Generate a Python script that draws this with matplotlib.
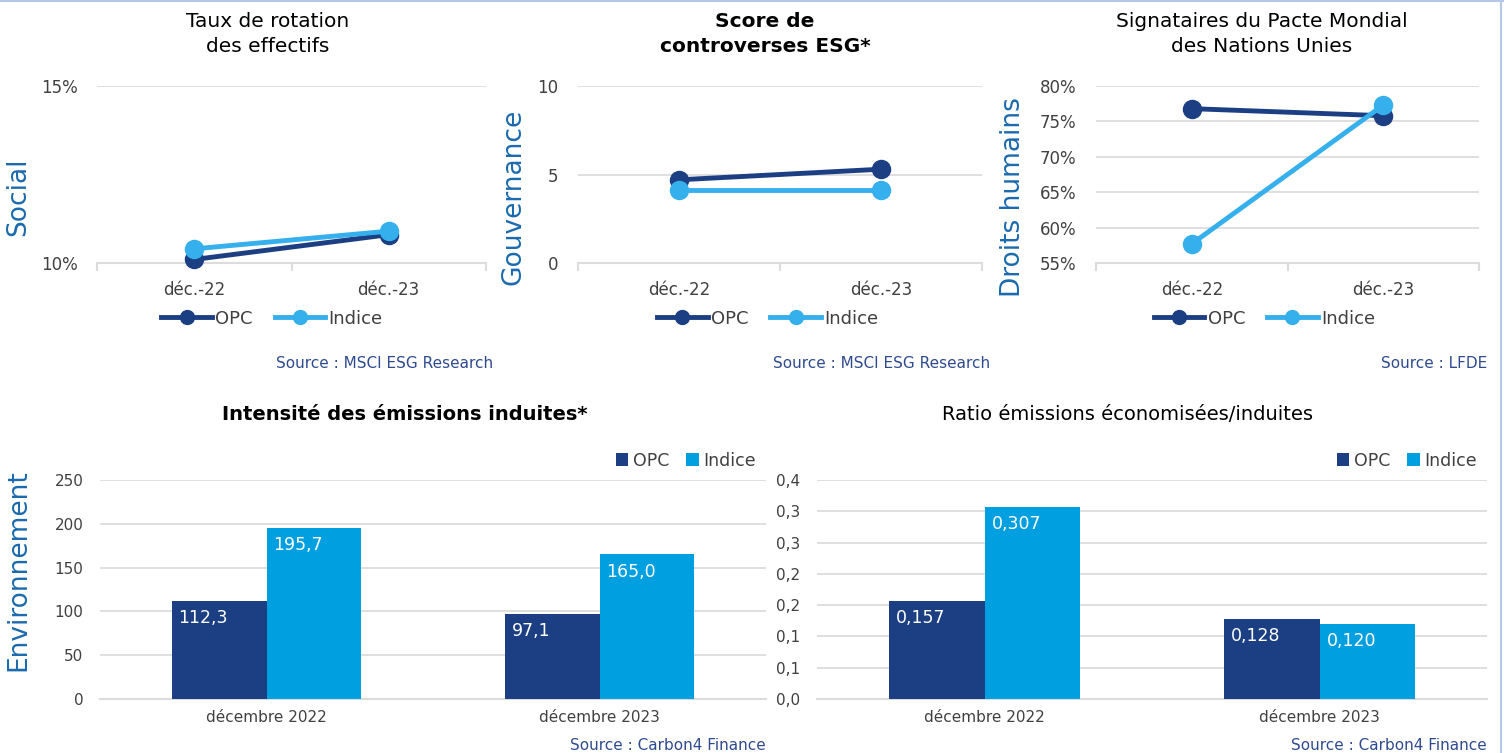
import numpy as np
import matplotlib
matplotlib.use("Agg")
import matplotlib.pyplot as plt
from matplotlib.lines import Line2D

plt.rcParams['font.family'] = ['DejaVu Sans']

W, H = 1504, 753

# données
dates = ["déc.-22", "déc.-23"]
rotation_opc = [10.1, 10.8]
rotation_indice = [10.4, 10.9]
controverses_opc = [4.7, 5.3]
controverses_indice = [4.1, 4.1]
pacte_opc = [76.8, 75.8]
pacte_indice = [57.7, 77.3]

periodes = ["décembre 2022", "décembre 2023"]
intensite_opc = [112.3, 97.1]
intensite_indice = [195.7, 165.0]
ratio_opc = [0.157, 0.128]
ratio_indice = [0.307, 0.120]
ratio_ticks = [0, 0.05, 0.10, 0.15, 0.20, 0.25, 0.30, 0.35]
ratio_ticklabels = ["0,0", "0,1", "0,1", "0,2", "0,2", "0,3", "0,3", "0,4"]

C_OPC = '#1B3F82'
C_IND_LINE = '#35B0EC'
C_IND_BAR = '#009FE0'
C_GRID = '#DCDCDC'
C_TICK = '#404040'
C_YLAB = '#1A6AAE'
C_SRC = '#2F4B8F'


def px(x0, y0, x1, y1):
    return [x0 / W, 1 - y1 / H, (x1 - x0) / W, (y1 - y0) / H]


fig = plt.figure(figsize=(W / 100, H / 100), dpi=100)


def line_panel(rect, opc, ind, ylim, yticks, fmt, title, bold, title_x, ylabel, ylab_x,
               leg_x, src, src_x):
    ax = fig.add_axes(px(*rect))
    x = np.arange(len(dates))
    ax.plot(x, opc, color=C_OPC, lw=3.5, marker='o', ms=13, zorder=3, clip_on=False)
    ax.plot(x, ind, color=C_IND_LINE, lw=3.5, marker='o', ms=13, zorder=4, clip_on=False)
    ax.set_xlim(-0.5, 1.5)
    ax.set_ylim(*ylim)
    ax.set_yticks(yticks)
    ax.set_yticklabels([fmt(v) for v in yticks])
    ax.set_xticks(x)
    ax.set_xticklabels(dates)
    ax.set_xticks([-0.5, 0.5, 1.5], minor=True)
    ax.tick_params(axis='x', which='major', length=0, pad=13, labelsize=12, labelcolor=C_TICK)
    ax.tick_params(axis='x', which='minor', length=6, color=C_GRID, width=1.5)
    ax.tick_params(axis='y', length=0, pad=14, labelsize=12, labelcolor=C_TICK)
    ax.grid(axis='y', color=C_GRID, lw=1.3)
    ax.set_axisbelow(True)
    for s in ['top', 'right', 'left']:
        ax.spines[s].set_visible(False)
    ax.spines['bottom'].set_color(C_GRID)
    ax.spines['bottom'].set_linewidth(1.5)
    fig.text(title_x / W, 1 - 34 / H, title, ha='center', va='center', fontsize=14.5,
             fontweight='bold' if bold else 'normal', linespacing=1.45)
    fig.text(ylab_x / W, 1 - (rect[1] + rect[3]) / 2 / H - 0.03, ylabel, rotation=90,
             ha='center', va='center', fontsize=19, color=C_YLAB)
    handles = [Line2D([], [], color=C_OPC, lw=3.5, marker='o', ms=10),
               Line2D([], [], color=C_IND_LINE, lw=3.5, marker='o', ms=10)]
    ax.legend(handles, ['OPC', 'Indice'], loc='center', bbox_to_anchor=(leg_x, -0.315),
              ncol=2, frameon=False, fontsize=13, handlelength=2.8, handletextpad=0.2,
              columnspacing=1.2, labelcolor=C_TICK)
    fig.text(src_x / W, 1 - 364 / H, src, ha='right', va='center', fontsize=11, color=C_SRC)
    return ax


line_panel((97, 86, 486, 263), rotation_opc, rotation_indice, (10, 15), [10, 15],
           lambda v: f"{v:.0f}%", "Taux de rotation\ndes effectifs", False, 268,
           "Social", 18, 0.45, "Source : MSCI ESG Research", 493)
line_panel((578, 86, 982, 263), controverses_opc, controverses_indice, (0, 10), [0, 5, 10],
           lambda v: f"{v:.0f}", "Score de\ncontroverses ESG*", True, 765,
           "Gouvernance", 513, 0.47, "Source : MSCI ESG Research", 990)
line_panel((1096, 86, 1479, 263), pacte_opc, pacte_indice, (55, 80), [55, 60, 65, 70, 75, 80],
           lambda v: f"{v:.0f}%", "Signataires du Pacte Mondial\ndes Nations Unies", False, 1262,
           "Droits humains", 1013, 0.44, "Source : LFDE", 1487)


def bar_panel(rect, opc, ind, ylim, yticks, yticklabels, fmt, title, bold, title_x):
    ax = fig.add_axes(px(*rect))
    x = np.arange(len(periodes))
    w = 0.285
    b1 = ax.bar(x - w / 2, opc, w, color=C_OPC, label='OPC', zorder=3)
    b2 = ax.bar(x + w / 2, ind, w, color=C_IND_BAR, label='Indice', zorder=3)
    for bars, vals in ((b1, opc), (b2, ind)):
        for r, v in zip(bars, vals):
            ax.annotate(fmt(v), (r.get_x(), r.get_height()), xytext=(5, -6),
                        textcoords='offset points', ha='left', va='top',
                        color='white', fontsize=12.5)
    ax.set_xlim(-0.5, 1.5)
    ax.set_ylim(*ylim)
    ax.set_yticks(yticks)
    ax.set_yticklabels(yticklabels)
    ax.set_xticks(x)
    ax.set_xticklabels(periodes)
    ax.tick_params(axis='x', length=0, pad=8, labelsize=11, labelcolor=C_TICK)
    ax.tick_params(axis='y', length=0, pad=12, labelsize=11, labelcolor=C_TICK)
    ax.grid(axis='y', color=C_GRID, lw=1.3)
    ax.set_axisbelow(True)
    for s in ['top', 'right', 'left']:
        ax.spines[s].set_visible(False)
    ax.spines['bottom'].set_color(C_GRID)
    ax.spines['bottom'].set_linewidth(1.5)
    ax.legend(loc='lower right', bbox_to_anchor=(1.0, 1.0), ncol=2, frameon=False,
              fontsize=12.5, handlelength=0.7, handleheight=0.7, handletextpad=0.25,
              columnspacing=1.0, labelcolor=C_TICK, borderaxespad=0.2)
    fig.text(title_x / W, 1 - 415 / H, title, ha='center', va='center', fontsize=14,
             fontweight='bold' if bold else 'normal')
    fig.text(rect[2] / W, 1 - 746 / H, "Source : Carbon4 Finance", ha='right', va='center',
             fontsize=11, color=C_SRC)
    return ax


bar_panel((100, 480, 766, 699), intensite_opc, intensite_indice, (0, 250),
          [0, 50, 100, 150, 200, 250], ["0", "50", "100", "150", "200", "250"],
          lambda v: f"{v:.1f}".replace('.', ','), "Intensité des émissions induites*", True, 405)
bar_panel((817, 480, 1487, 699), ratio_opc, ratio_indice, (0, 0.35),
          ratio_ticks, ratio_ticklabels,
          lambda v: f"{v:.3f}".replace('.', ','), "Ratio émissions économisées/induites", False, 1127)

fig.text(18 / W, 1 - 570 / H, "Environnement", rotation=90, ha='center', va='center',
         fontsize=19, color=C_YLAB)

# bordures
fig.add_artist(Line2D([0, 1], [1 - 1 / H, 1 - 1 / H], color='#B4C7E7', lw=1.5))
fig.add_artist(Line2D([1501 / W, 1501 / W], [0, 1], color='#B4C7E7', lw=1.5))

fig.savefig("out.png", dpi=100)
